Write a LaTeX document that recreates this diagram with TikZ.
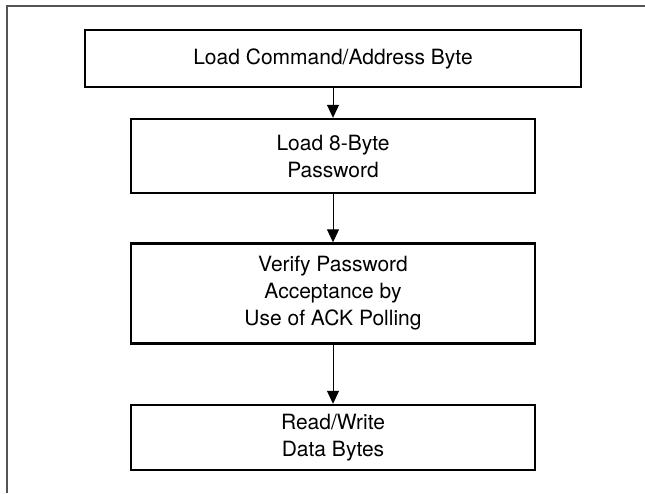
\documentclass[tikz,border=0pt]{standalone}
\usepackage{fontspec}
\setmainfont{TeX Gyre Heros}
\usetikzlibrary{arrows.meta}

\begin{document}
\begin{tikzpicture}[x=1pt,y=-1pt,
  flowbox/.style={draw,line width=2.4pt,align=center,inner sep=0pt,
    minimum width=404pt,font=\fontsize{21}{27}\selectfont},
  frame/.style={line width=2pt,black!67}
  ]
  \useasboundingbox (0,0) rectangle (645,493);
  % frame
  \draw[frame] (645,6) -- (7,6) -- (7,493);
  \node[flowbox,minimum width=496pt,minimum height=57pt] (cmd) at (333,58.5)
    {Load Command/Address Byte};
  \node[flowbox,minimum height=74pt] (pw) at (333,156)
    {Load 8-Byte\\ Password};
  \node[flowbox,minimum height=100pt] (ack) at (333,293.5)
    {Verify Password\\Acceptance by\\Use of ACK Polling};
  \node[flowbox,minimum height=65pt] (rw) at (333,437.5)
    {Read/Write\\ Data Bytes};
  %arrows
  \path[->,line width=1pt,>={Triangle[width=12pt,length=13pt]}]
  (cmd) edge (pw)
  (pw) edge (ack)
  (ack) edge (rw)
  ;
\end{tikzpicture}
\end{document}
